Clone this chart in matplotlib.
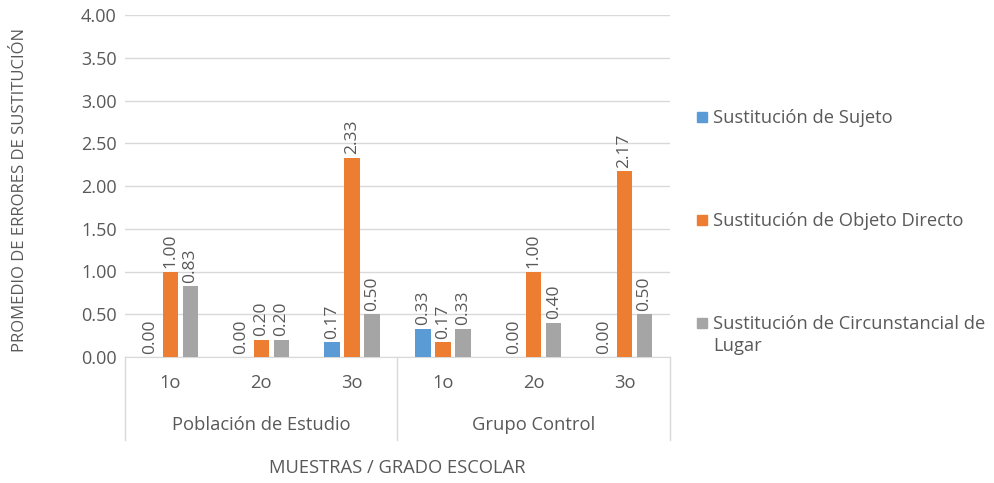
import matplotlib
matplotlib.use("Agg")
import matplotlib.pyplot as plt
from matplotlib.patches import Rectangle
import numpy as np

plt.rcParams['font.family'] = ['Open Sans', 'DejaVu Sans']

# datos
grados = ['1o', '2o', '3o', '1o', '2o', '3o']
grupos = ['Población de Estudio', 'Grupo Control']
series = ['Sustitución de Sujeto', 'Sustitución de Objeto Directo',
          'Sustitución de Circunstancial de\nLugar']
sujeto = [0.00, 0.00, 0.17, 0.33, 0.00, 0.00]
objeto = [1.00, 0.20, 2.33, 0.17, 1.00, 2.17]
lugar = [0.83, 0.20, 0.50, 0.33, 0.40, 0.50]
colores = ['#5B9BD5', '#ED7D31', '#A5A5A5']

txt = '#595959'
linea = '#D9D9D9'
fs = 13.2

fig = plt.figure(figsize=(9.95, 4.83), dpi=100)
ax = fig.add_axes([125/995, 1-357/483, 545/995, 342/483])

x = np.arange(len(grados))
ancho = 0.17
paso = 0.22
for i, (vals, col) in enumerate(zip([sujeto, objeto, lugar], colores)):
    pos = x + (i-1)*paso
    ax.bar(pos, vals, width=ancho, color=col, zorder=3)
    for p, v in zip(pos, vals):
        ax.text(p, v + 0.04, f'{v:.2f}', rotation=90, ha='center', va='bottom',
                fontsize=12.5, color=txt, zorder=4)

ax.set_xlim(-0.5, len(grados)-0.5)
ax.set_ylim(0, 4)
ax.set_yticks(np.arange(0, 4.01, 0.5))
ax.set_yticklabels([f'{t:.2f}' for t in np.arange(0, 4.01, 0.5)], fontsize=13, color=txt)
ax.yaxis.grid(True, color=linea, lw=1, zorder=0)
ax.tick_params(axis='y', length=0, pad=6)
ax.set_xticks([])
for s in ['top', 'right', 'left']:
    ax.spines[s].set_visible(False)
ax.spines['bottom'].set_color(linea)

# eje de categorias en dos niveles
tr = ax.get_xaxis_transform()
for xi, g in zip(x, grados):
    ax.text(xi, -0.076, g, transform=tr, ha='center', va='center', fontsize=fs, color=txt)
for k, g in enumerate(grupos):
    ax.text(k*3 + 1, -0.199, g, transform=tr, ha='center', va='center', fontsize=fs, color=txt)
for xb in [-0.5, 2.5, 5.5]:
    ax.plot([xb, xb], [0, -0.243], transform=tr, color=linea, lw=1, clip_on=False)

fig.text(20/995, 1-190/483, 'PROMEDIO DE ERRORES DE SUSTITUCIÓN', rotation=90,
         ha='center', va='center', fontsize=12, color=txt)
fig.text(397/995, 1-468/483, 'MUESTRAS / GRADO ESCOLAR', ha='center', va='center',
         fontsize=fs, color=txt)

# leyenda
ys = [117, 220, 323]
for s, col, yy in zip(series, colores, ys):
    fig.patches.append(Rectangle((697/995, 1-(yy+5)/483), 10/995, 10/483,
                                 transform=fig.transFigure, color=col))
    fig.text(713/995, 1-(yy-8)/483, s, ha='left', va='top', fontsize=fs,
             color=txt, linespacing=1.3)

fig.savefig('out.png', dpi=100)
